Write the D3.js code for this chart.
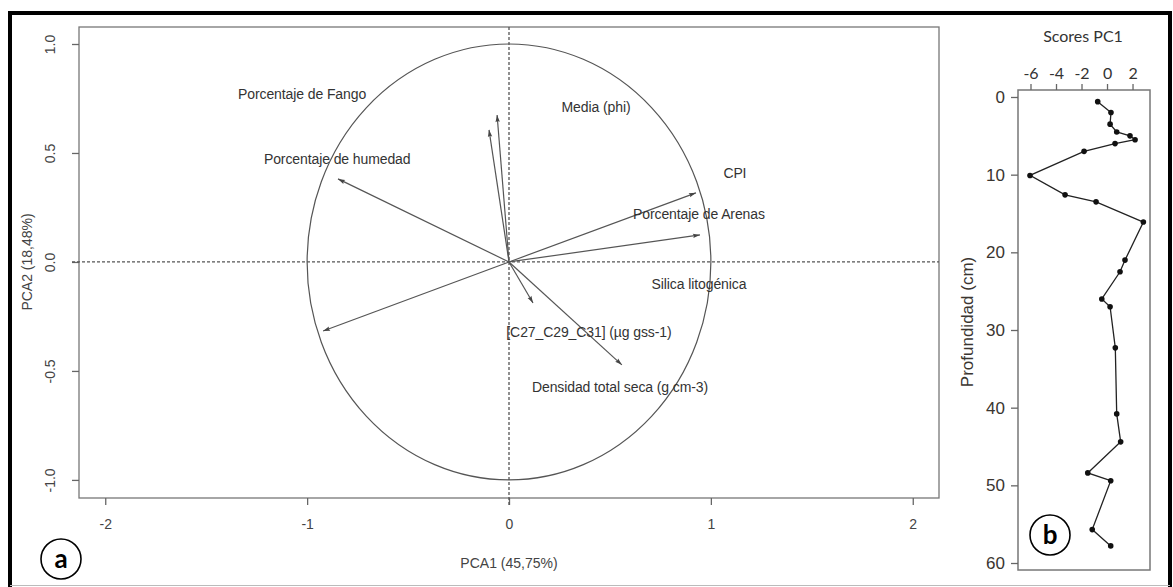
<!DOCTYPE html>
<html>
<head>
<meta charset="utf-8">
<script src="https://cdn.jsdelivr.net/npm/d3@7"></script>
<style>
  body { margin: 0; background: #fff; }
  text { font-family: "Liberation Sans", Arial, sans-serif; }
</style>
</head>
<body>
<div id="viz"></div>
<script>
// PCA variables (loadings and where the label sits)
var varNames = ["Porcentaje de Fango", "Porcentaje de humedad", "Media (phi)", "CPI",
                "Porcentaje de Arenas", "Silica litogénica", "[C27_C29_C31] (µg gss-1)",
                "Densidad total seca (g cm-3)"];
var loadPC1 = [-0.059, -0.847, -0.099, 0.926, 0.946, -0.921, 0.119, 0.559];
var loadPC2 = [0.674, 0.381, 0.606, 0.317, 0.124, -0.317, -0.188, -0.472];
var labelPC1 = [-1.025, -0.851, 0.431, 1.119, 0.941, 0.941, 0.396, 0.550];
var labelPC2 = [0.771, 0.472, 0.711, 0.408, 0.220, -0.101, -0.321, -0.573];

var pcaXTicks = [-2, -1, 0, 1, 2];
var pcaYTicks = [-1.0, -0.5, 0.0, 0.5, 1.0];

// PC1 scores by depth
var depth = [0.6, 2.0, 3.5, 4.5, 5.0, 5.5, 6.0, 7.0, 10.1, 12.6, 13.5, 16.1, 21.0, 22.5,
             26.0, 27.0, 32.3, 40.8, 44.4, 48.4, 49.4, 55.7, 57.8];
var scorePC1 = [-0.73, 0.31, 0.24, 0.76, 1.80, 2.20, 0.63, -1.80, -6.04, -3.29, -0.86, 2.85,
                1.41, 1.02, -0.41, 0.24, 0.65, 0.76, 1.07, -1.51, 0.29, -1.16, 0.29];
var scoreTicks = [-6, -4, -2, 0, 2];
var depthTicks = [0, 10, 20, 30, 40, 50, 60];

var width = 1173,
    height = 587;

// R style labels: plain hyphen for minus
function fmtInt(d) { return String(d); }
function fmtOne(d) { return d.toFixed(1); }

var svg = d3.select("#viz").append("svg")
    .attr("width", width)
    .attr("height", height);

// outer frame
svg.append("path")
    .attr("d", "M10,587 V13 H1170 V587")
    .style("fill", "none")
    .style("stroke", "black")
    .style("stroke-width", 4);
svg.append("line")
    .attr("x1", 10).attr("x2", 1170)
    .attr("y1", 585.5).attr("y2", 585.5)
    .style("stroke", "#bbb");

// ---------- panel a : PCA ----------
var box = {left: 79, right: 939, top: 27, bottom: 498};
var x = d3.scaleLinear().domain([-2.13, 2.13]).range([box.left, box.right]);
var y = d3.scaleLinear().domain([-1.083, 1.078]).range([box.bottom, box.top]);

var pa = svg.append("g");

pa.append("rect")
    .attr("x", box.left).attr("y", box.top)
    .attr("width", box.right - box.left).attr("height", box.bottom - box.top)
    .style("fill", "none")
    .style("stroke", "#777")
    .style("stroke-width", 1.3);

var xAxis = pa.append("g")
    .attr("transform", "translate(0," + box.bottom + ")")
    .call(d3.axisBottom(x).tickValues(pcaXTicks).tickSize(7).tickPadding(14)
        .tickFormat(fmtInt));
xAxis.select(".domain").remove();
xAxis.selectAll("line").style("stroke", "#666").style("stroke-width", 1.3);
xAxis.selectAll("text").style("font-size", "14px").style("fill", "#444")
    .style("font-family", "Liberation Sans, Arial, sans-serif");

var yAxis = pa.append("g")
    .attr("transform", "translate(" + box.left + ",0)")
    .call(d3.axisLeft(y).tickValues(pcaYTicks).tickSize(7).tickFormat(fmtOne));
yAxis.select(".domain").remove();
yAxis.selectAll("line").style("stroke", "#666").style("stroke-width", 1.3);
yAxis.selectAll("text")
    .attr("x", null).attr("dy", null)
    .attr("text-anchor", "middle")
    .attr("transform", "translate(-24,0) rotate(-90)")
    .attr("y", 0)
    .style("font-size", "14px").style("fill", "#444")
    .style("font-family", "Liberation Sans, Arial, sans-serif");

pa.append("text")
    .attr("x", x(0)).attr("y", 568)
    .attr("text-anchor", "middle")
    .style("font-size", "14px").style("fill", "#444")
    .text("PCA1 (45,75%)");
pa.append("text")
    .attr("transform", "translate(32," + y(0) + ") rotate(-90)")
    .attr("text-anchor", "middle")
    .style("font-size", "14px").style("fill", "#444")
    .text("PCA2 (18,48%)");

// dashed reference lines
pa.append("line")
    .attr("x1", box.left - 7).attr("x2", box.right)
    .attr("y1", y(0)).attr("y2", y(0))
    .style("stroke", "#555").style("stroke-dasharray", "3,2").style("stroke-width", 1.3);
pa.append("line")
    .attr("x1", x(0)).attr("x2", x(0))
    .attr("y1", box.top).attr("y2", box.bottom + 7)
    .style("stroke", "#555").style("stroke-dasharray", "3,2").style("stroke-width", 1.3);

// correlation circle
pa.append("ellipse")
    .attr("cx", x(0)).attr("cy", y(0))
    .attr("rx", x(1) - x(0)).attr("ry", y(0) - y(1))
    .style("fill", "none")
    .style("stroke", "#555")
    .style("stroke-width", 1.2);

// arrow heads
svg.append("defs").append("marker")
    .attr("id", "head")
    .attr("viewBox", "-8 -4 9 8")
    .attr("refX", 0).attr("refY", 0)
    .attr("markerWidth", 9).attr("markerHeight", 8)
    .attr("markerUnits", "userSpaceOnUse")
    .attr("orient", "auto")
    .append("path")
    .attr("d", "M0,0 L-7,-2.2 L-6,0 L-7,2.2 Z")
    .style("fill", "#444");

var idx = d3.range(varNames.length);

pa.selectAll(".arrow")
    .data(idx)
    .enter().append("line")
    .attr("class", "arrow")
    .attr("x1", x(0)).attr("y1", y(0))
    .attr("x2", function(i) { return x(loadPC1[i]); })
    .attr("y2", function(i) { return y(loadPC2[i]); })
    .style("stroke", "#555")
    .style("stroke-width", 1.2)
    .attr("marker-end", "url(#head)");

pa.selectAll(".varlabel")
    .data(idx)
    .enter().append("text")
    .attr("class", "varlabel")
    .attr("x", function(i) { return x(labelPC1[i]); })
    .attr("y", function(i) { return y(labelPC2[i]); })
    .attr("dy", "0.35em")
    .attr("text-anchor", "middle")
    .style("font-size", "14px")
    .style("letter-spacing", "-0.1px")
    .style("fill", "#333")
    .text(function(i) { return varNames[i]; });

// ---------- panel b : scores PC1 vs depth ----------
var box2 = {left: 1018, right: 1150, top: 90, bottom: 570};
var sx = d3.scaleLinear().domain([-6.98, 3.37]).range([box2.left, box2.right]);
var sy = d3.scaleLinear().domain([-0.9, 60.9]).range([box2.top, box2.bottom]);

var pb = svg.append("g");

pb.append("rect")
    .attr("x", box2.left).attr("y", box2.top)
    .attr("width", box2.right - box2.left).attr("height", box2.bottom - box2.top)
    .style("fill", "none")
    .style("stroke", "#777")
    .style("stroke-width", 1.5);

var sxAxis = pb.append("g")
    .attr("transform", "translate(0," + box2.top + ")")
    .call(d3.axisTop(sx).tickValues(scoreTicks).tickSize(6).tickPadding(5)
        .tickFormat(fmtInt));
sxAxis.select(".domain").remove();
sxAxis.selectAll("line").style("stroke", "#666").style("stroke-width", 1.3);
sxAxis.selectAll("text").style("font-size", "16px").style("fill", "#333")
    .style("font-family", "Lato, sans-serif");

var syAxis = pb.append("g")
    .attr("transform", "translate(" + box2.left + ",0)")
    .call(d3.axisLeft(sy).tickValues(depthTicks).tickSize(7).tickPadding(6)
        .tickFormat(fmtInt));
syAxis.select(".domain").remove();
syAxis.selectAll("line").style("stroke", "#666").style("stroke-width", 1.3);
syAxis.selectAll("text").style("font-size", "17px").style("fill", "#3a3530")
    .style("font-family", "Liberation Sans, Arial, sans-serif");

pb.append("text")
    .attr("x", 1083).attr("y", 42)
    .attr("text-anchor", "middle")
    .style("font-family", "Lato, sans-serif")
    .style("font-size", "16px").style("fill", "#333")
    .text("Scores PC1");
pb.append("text")
    .attr("transform", "translate(973,322) rotate(-90)")
    .attr("text-anchor", "middle")
    .style("font-size", "17px").style("fill", "#3a3530")
    .text("Profundidad (cm)");

var line = d3.line()
    .x(function(i) { return sx(scorePC1[i]); })
    .y(function(i) { return sy(depth[i]); });

pb.append("path")
    .datum(d3.range(depth.length))
    .attr("d", line)
    .style("fill", "none")
    .style("stroke", "#222")
    .style("stroke-width", 1.3);

pb.selectAll(".pt")
    .data(d3.range(depth.length))
    .enter().append("circle")
    .attr("class", "pt")
    .attr("cx", function(i) { return sx(scorePC1[i]); })
    .attr("cy", function(i) { return sy(depth[i]); })
    .attr("r", 2.8)
    .style("fill", "#111");

// panel letters
var letters = [{t: "a", cx: 61, cy: 559}, {t: "b", cx: 1050, cy: 535}];
var lg = svg.selectAll(".letter")
    .data(letters)
    .enter().append("g")
    .attr("class", "letter")
    .attr("transform", function(d) { return "translate(" + d.cx + "," + d.cy + ")"; });
lg.append("circle")
    .attr("r", 20)
    .style("fill", "white")
    .style("stroke", "black")
    .style("stroke-width", 1.6);
lg.append("text")
    .attr("text-anchor", "middle")
    .attr("dy", "0.36em")
    .style("font-family", "Lato, sans-serif")
    .style("font-weight", "bold")
    .style("font-size", "26px")
    .text(function(d) { return d.t; });
</script>
</body>
</html>
